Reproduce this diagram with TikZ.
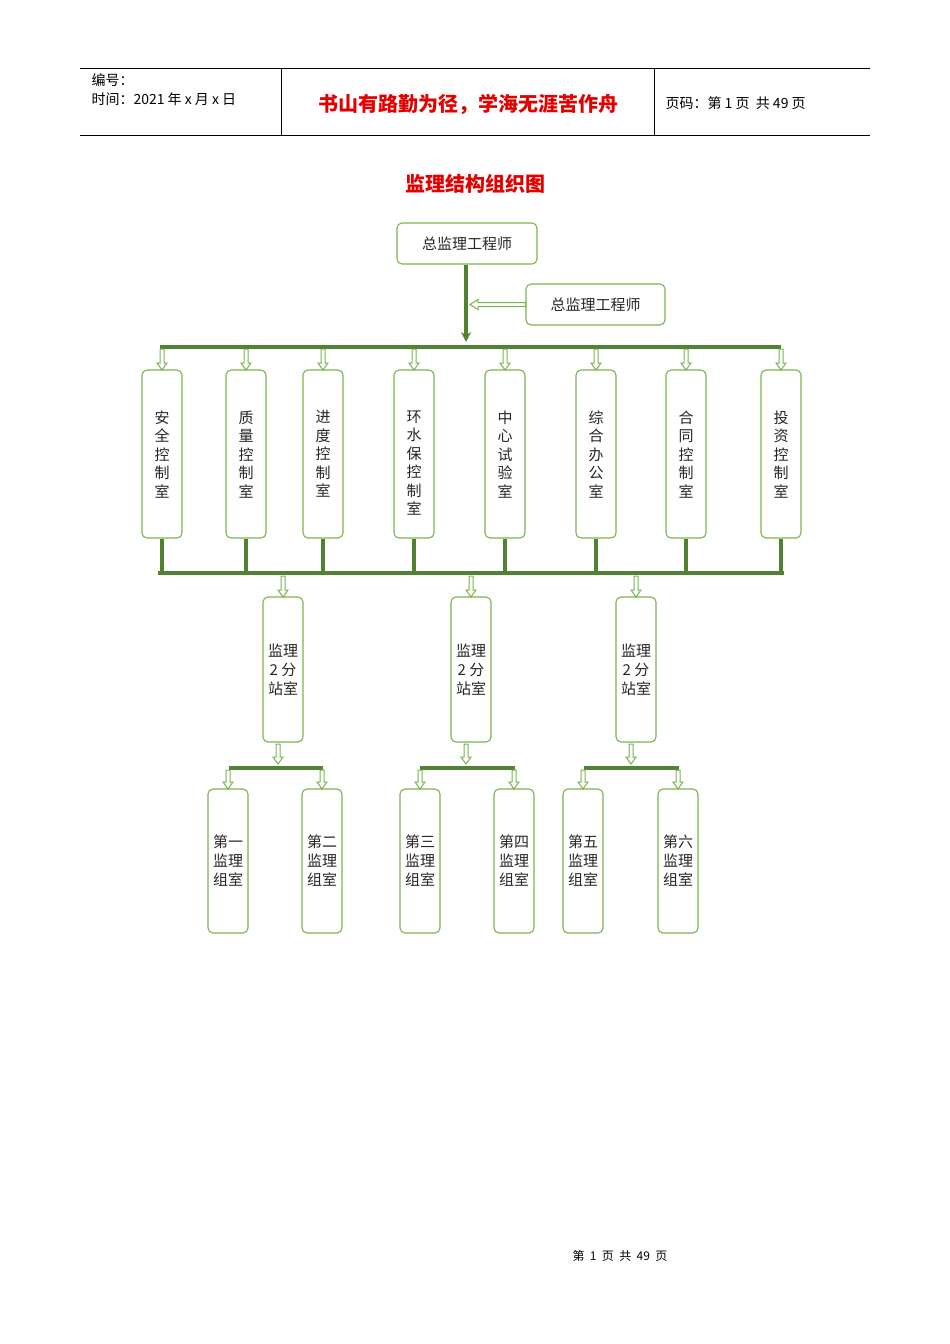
\documentclass[tikz,border=0pt]{standalone}
\usepackage{fontspec}
\setmainfont{Noto Sans CJK SC}
\begin{document}
\begin{tikzpicture}[x=1pt,y=-1pt]
\definecolor{lg}{RGB}{120,180,80}
\definecolor{dg}{RGB}{80,130,50}
\tikzset{bx/.style={draw=lg, line width=1.1pt, rounded corners=5pt, fill=white, inner sep=0pt},
  bar/.style={draw=dg, line width=3.4pt},
  lab/.style={font=\fontsize{15}{19}\selectfont, align=center, text=black!85}}
\newcommand\hdown[3]{\draw[lg,line width=1pt,fill=white] (#1-2,#2)--(#1+2,#2)--(#1+2,#3-7)--(#1+5,#3-7)--(#1,#3)--(#1-5,#3-7)--(#1-2,#3-7)--cycle;}
\useasboundingbox (0,0) rectangle (950,1344);
% header
\draw[line width=0.6pt] (80,68)--(870,68) (80,135)--(870,135) (281,68)--(281,135) (654,68)--(654,135);
\node[anchor=west,font=\fontsize{14}{16}\selectfont] (h1) at (88,80) {编号：};
\node[anchor=west,font=\fontsize{14}{16}\selectfont] (h2) at (88,99) {时间：2021 年 x 月 x 日};
\node[font=\bfseries\fontsize{20}{23}\selectfont,text=red!90!black] (h3) at (468,104) {书山有路勤为径，学海无涯苦作舟};
\node[anchor=west,font=\fontsize{14}{16}\selectfont] (h4) at (662,103) {页码：第 1 页\ \ 共 49 页};
\node[font=\bfseries\fontsize{20}{23}\selectfont,text=red!90!black] (title) at (475,184) {监理结构组织图};
% top boxes
\node[bx,minimum width=140,minimum height=41,lab] (top) at (467,243.5) {总监理工程师};
\node[bx,minimum width=139,minimum height=41,lab] (dep) at (595.5,304.5) {总监理工程师};
\draw[dg,line width=3.4pt,-stealth] (top.south -| 466,0) -- (466,342);
\draw[lg,line width=1pt,fill=white] (dep.west|-0,302.5) -- (478,302.5) -- (478,299.5) -- (470,304.5) -- (478,309.5) -- (478,306.5) -- (dep.west|-0,306.5) -- cycle;
\draw[bar] (160,347)--(781,347);
% rooms
\foreach \n/\x/\t in {r1/162/安\\全\\控\\制\\室, r2/246/质\\量\\控\\制\\室, r3/323/进\\度\\控\\制\\室, r4/414/环\\水\\保\\控\\制\\室, r5/505/中\\心\\试\\验\\室, r6/596/综\\合\\办\\公\\室, r7/686/合\\同\\控\\制\\室, r8/781/投\\资\\控\\制\\室}{
  \node[bx,minimum width=40,minimum height=168] (\n) at (\x,454) {};
  \node[lab,font=\fontsize{15}{18.5}\selectfont,anchor=north] at (\x,407) {\t};
  \hdown{\x}{349}{370}
  \draw[bar] (\n.south) -- (\x,573);
}
\draw[bar] (158.3,573)--(783.7,573);
% substations
\foreach \n/\x in {s1/283,s2/471,s3/636}{
  \node[bx,minimum width=40,minimum height=145,lab] (\n) at (\x,669.5) {监理\\2 分\\站室};
  \hdown{\x}{576}{597}
  \hdown{\x-5}{744}{764}
}
\foreach \a/\b in {229/323,420/515,584/679}{\draw[bar] (\a,768)--(\b,768);}
\foreach \n/\x/\t in {g1/228/第一,g2/322/第二,g3/420/第三,g4/514/第四,g5/583/第五,g6/678/第六}{
  \node[bx,minimum width=40,minimum height=144,lab] (\n) at (\x,861) {\t\\监理\\组室};
  \hdown{\x}{770}{789}
}
\node[font=\fontsize{12}{14}\selectfont] (foot) at (620,1256) {第\ \ 1\ \ 页\ \ 共\ \ 49\ \ 页};
\end{tikzpicture}
\end{document}
